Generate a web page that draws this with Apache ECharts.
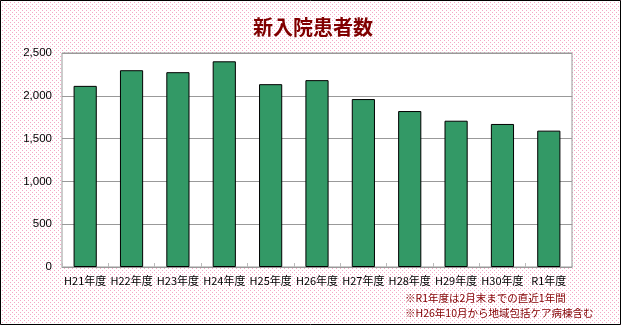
<!DOCTYPE html>
<html>
<head>
<meta charset="utf-8">
<script src="https://cdn.jsdelivr.net/npm/echarts@6/dist/echarts.min.js"></script>
<style>
html,body{margin:0;padding:0;}
#chart{width:621px;height:325px;}
</style>
</head>
<body>
<div id="chart"></div>
<script>
const categories = ['H21年度','H22年度','H23年度','H24年度','H25年度','H26年度','H27年度','H28年度','H29年度','H30年度','R1年度'];
const patients = [2116, 2299, 2276, 2403, 2136, 2183, 1962, 1822, 1709, 1671, 1593];
const yTicks = [0, 500, 1000, 1500, 2000, 2500];
const titleText = '新入院患者数';
const notes = ['※R1年度は2月末までの直近1年間', '※H26年10月から地域包括ケア病棟含む'];

// dotted pink background pattern
const pc = document.createElement('canvas');
pc.width = 4; pc.height = 4;
const pctx = pc.getContext('2d');
pctx.fillStyle = '#ffffff'; pctx.fillRect(0,0,4,4);
pctx.fillStyle = '#f4a8c6';
pctx.fillRect(0,0,1,1);
pctx.fillRect(2,2,1,1);
document.getElementById('chart').style.backgroundImage = 'url(' + pc.toDataURL() + ')';

const chart = echarts.init(document.getElementById('chart'), null, {renderer:'canvas'});
const jpFont = '"Noto Sans CJK JP", sans-serif';
chart.setOption({
  backgroundColor: 'transparent',
  animation: false,
  title: {
    text: titleText,
    left: 308, top: 12, textAlign: 'center',
    textStyle: {color: '#800000', fontSize: 20, fontWeight: 'bold', fontFamily: jpFont}
  },
  grid: {
    left: 62, right: 49, top: 53, bottom: 58,
    show: true, backgroundColor: '#ffffff', borderColor: '#999999', borderWidth: 1
  },
  xAxis: {
    type: 'category',
    data: categories,
    axisLine: {show: true, lineStyle: {color: '#999999'}},
    axisTick: {show: true, inside: true, length: 4, lineStyle: {color: '#bbbbbb'}},
    axisLabel: {color: '#000', fontSize: 11, fontFamily: jpFont, margin: 8, interval: 0}
  },
  yAxis: {
    type: 'value',
    min: yTicks[0], max: yTicks[yTicks.length-1], interval: 500,
    axisLine: {show: false},
    axisTick: {show: false},
    splitLine: {show: true, lineStyle: {color: '#999999', width: 1}},
    axisLabel: {
      color: '#000', fontSize: 11.5, fontFamily: '"Liberation Sans", sans-serif', margin: 10,
      formatter: v => v.toLocaleString('en-US')
    }
  },
  series: [{
    type: 'bar',
    data: patients,
    barWidth: '50%',
    itemStyle: {color: '#339966', borderColor: '#000000', borderWidth: 1}
  }],
  graphic: [
    {type: 'text', left: 405, top: 293, style: {text: notes[0], fill: '#800000', font: '10.5px ' + jpFont}},
    {type: 'text', left: 405, top: 308, style: {text: notes[1], fill: '#800000', font: '10.5px ' + jpFont}},
    {type: 'rect', shape: {x: 0.5, y: 0.5, width: 620, height: 324}, style: {fill: 'none', stroke: '#000', lineWidth: 1}, silent: true}
  ]
});
</script>
</body>
</html>
